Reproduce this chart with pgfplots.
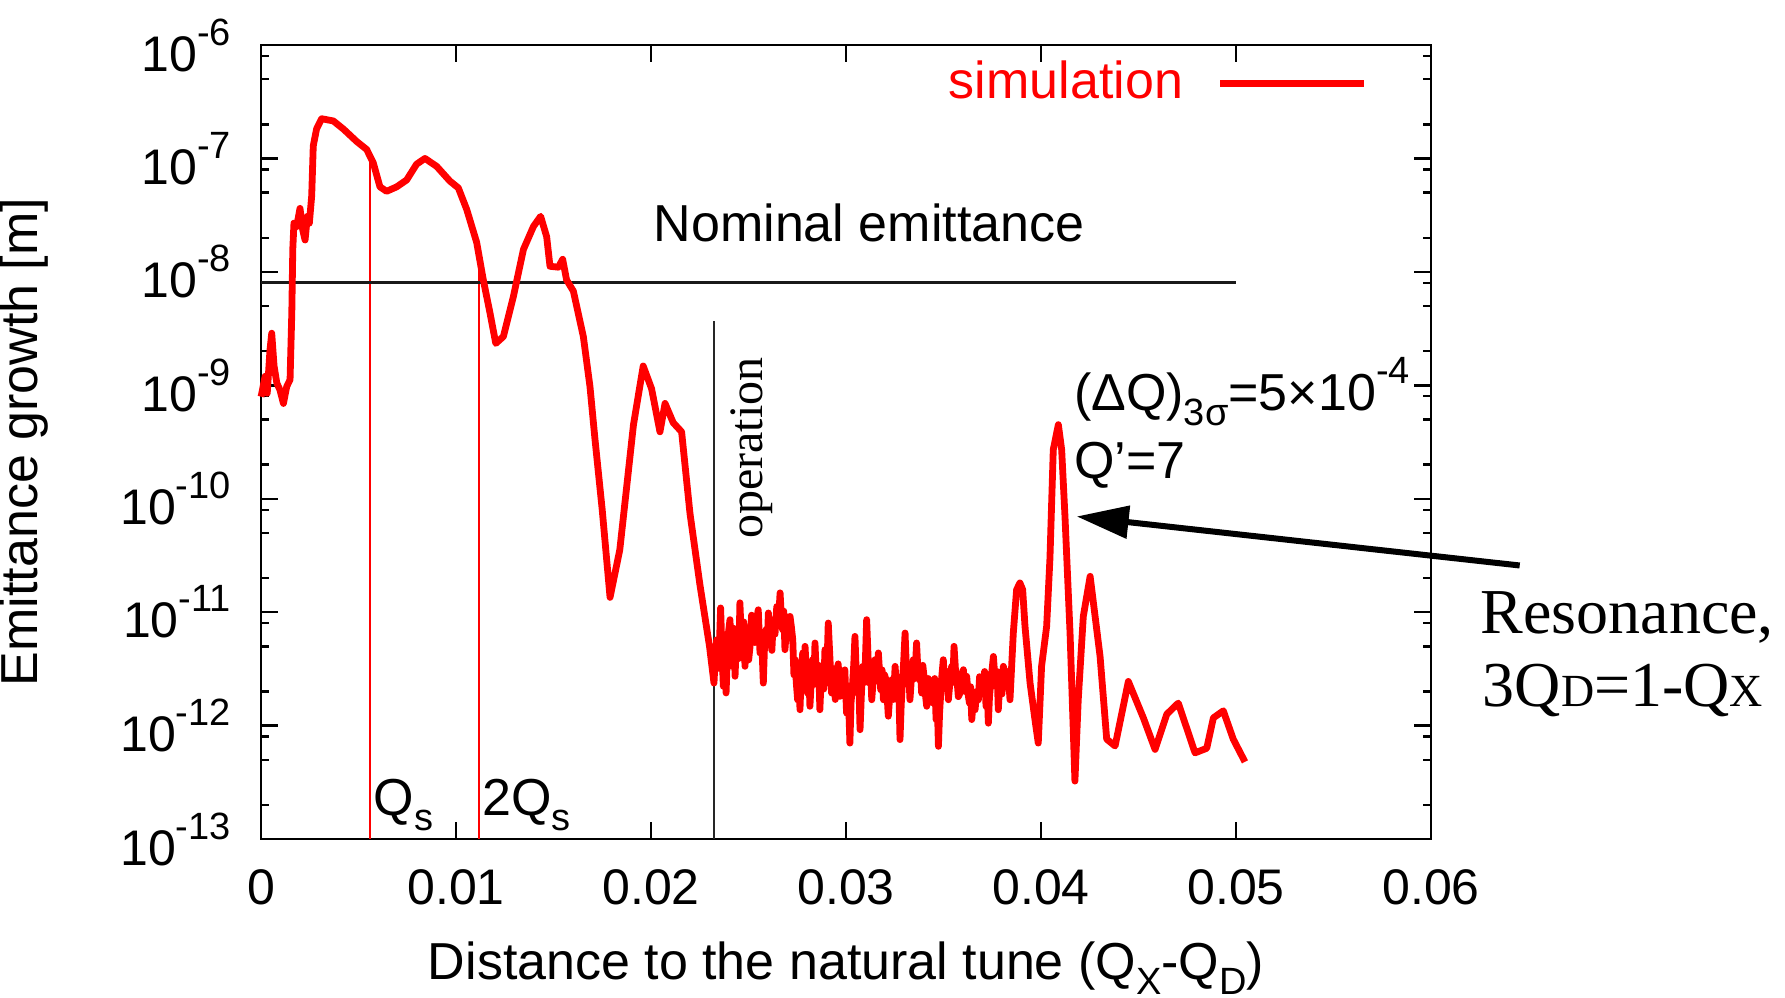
\documentclass[border=0pt]{standalone}
\usepackage{fontspec}
\setmainfont{Liberation Sans}
\newfontfamily\seriffont{Liberation Serif}
\usepackage{pgfplots}
\pgfplotsset{compat=1.18}
\usepackage{pgfplotstable}
\usetikzlibrary{arrows.meta}

\newcommand\fs{\fontsize{12.5}{15}\selectfont}
\newcommand\ft{\fontsize{13}{15}\selectfont}
\newcommand\sups[1]{\raisebox{0.52em}{\fontsize{9.5}{10}\selectfont #1}}
\newcommand\subs[1]{\raisebox{-0.28em}{\fontsize{9.5}{10}\selectfont #1}}

\pgfplotstableread{
x y
0.00000 7.94e-10
0.00003 8.32e-10
0.00021 1.20e-9
0.00032 8.51e-10
0.00046 2.04e-9
0.00055 2.88e-9
0.00067 1.48e-9
0.00081 1.05e-9
0.00097 9.12e-10
0.00115 6.92e-10
0.00132 9.77e-10
0.00149 1.12e-9
0.00158 4.37e-9
0.00163 1.58e-8
0.00169 2.69e-8
0.00183 2.51e-8
0.00200 3.63e-8
0.00214 2.34e-8
0.00226 1.91e-8
0.00238 3.09e-8
0.00248 2.69e-8
0.00260 4.68e-8
0.00268 1.29e-7
0.00285 1.82e-7
0.00311 2.24e-7
0.00371 2.14e-7
0.00422 1.82e-7
0.00491 1.41e-7
0.00542 1.20e-7
0.00576 9.12e-8
0.00610 5.62e-8
0.00644 5.13e-8
0.00696 5.62e-8
0.00747 6.46e-8
0.00798 8.91e-8
0.00841 1.00e-7
0.00901 8.51e-8
0.00969 6.31e-8
0.01012 5.50e-8
0.01055 3.55e-8
0.01106 1.82e-8
0.01140 8.51e-9
0.01174 4.37e-9
0.01204 2.34e-9
0.01243 2.69e-9
0.01294 6.03e-9
0.01346 1.58e-8
0.01397 2.51e-8
0.01434 3.09e-8
0.01465 2.04e-8
0.01482 1.12e-8
0.01525 1.10e-8
0.01547 1.29e-8
0.01567 8.51e-9
0.01602 6.76e-9
0.01653 2.69e-9
0.01687 9.77e-10
0.01713 3.31e-10
0.01750 7.94e-11
0.01790 1.35e-11
0.01840 3.55e-11
0.01910 4.47e-10
0.01960 1.48e-9
0.02003 9.33e-10
0.02046 3.89e-10
0.02072 6.92e-10
0.02114 4.68e-10
0.02157 3.89e-10
0.02200 7.41e-11
0.02251 1.74e-11
0.02300 5.01e-12
0.02323 2.37e-12
0.02330 4.10e-12
0.02337 5.71e-12
0.02347 3.20e-12
0.02357 1.09e-11
0.02364 4.50e-12
0.02371 2.22e-12
0.02378 5.20e-12
0.02385 1.94e-12
0.02395 6.10e-12
0.02405 8.59e-12
0.02412 4.00e-12
0.02419 3.33e-12
0.02425 7.20e-12
0.02431 2.72e-12
0.02437 5.00e-12
0.02443 7.01e-12
0.02450 3.90e-12
0.02456 1.21e-11
0.02463 6.00e-12
0.02470 4.37e-12
0.02476 8.20e-12
0.02482 3.33e-12
0.02488 5.50e-12
0.02494 6.55e-12
0.02501 3.80e-12
0.02508 5.00e-12
0.02516 9.40e-12
0.02525 8.02e-12
0.02533 5.40e-12
0.02542 8.59e-12
0.02550 1.05e-11
0.02559 4.37e-12
0.02567 6.20e-12
0.02576 2.37e-12
0.02583 5.60e-12
0.02590 7.01e-12
0.02596 5.10e-12
0.02602 9.84e-12
0.02608 7.30e-12
0.02614 6.12e-12
0.02620 4.60e-12
0.02627 8.59e-12
0.02636 6.40e-12
0.02645 1.12e-11
0.02653 8.00e-12
0.02662 1.48e-11
0.02668 9.50e-12
0.02675 7.01e-12
0.02681 1.02e-11
0.02687 4.67e-12
0.02693 6.50e-12
0.02699 8.59e-12
0.02706 5.90e-12
0.02713 9.18e-12
0.02720 7.40e-12
0.02727 5.71e-12
0.02733 2.80e-12
0.02739 3.81e-12
0.02745 2.40e-12
0.02752 1.69e-12
0.02758 3.10e-12
0.02764 1.38e-12
0.02771 3.00e-12
0.02778 4.37e-12
0.02784 2.60e-12
0.02790 5.00e-12
0.02796 3.20e-12
0.02802 1.94e-12
0.02808 3.60e-12
0.02815 1.48e-12
0.02822 2.50e-12
0.02829 3.81e-12
0.02835 2.30e-12
0.02841 5.35e-12
0.02847 3.00e-12
0.02853 2.37e-12
0.02860 3.40e-12
0.02866 1.38e-12
0.02873 2.70e-12
0.02880 3.33e-12
0.02886 2.10e-12
0.02892 4.67e-12
0.02900 2.37e-12
0.02909 8.02e-12
0.02918 3.81e-12
0.02926 1.94e-12
0.02932 3.20e-12
0.02938 2.72e-12
0.02945 1.70e-12
0.02952 2.54e-12
0.02960 3.50e-12
0.02969 1.81e-12
0.02977 2.90e-12
0.02986 2.37e-12
0.02994 3.10e-12
0.03003 1.29e-12
0.03011 2.20e-12
0.03020 7.01e-13
0.03026 1.60e-12
0.03033 2.22e-12
0.03040 3.50e-12
0.03046 6.12e-12
0.03052 3.10e-12
0.03058 1.94e-12
0.03065 2.80e-12
0.03072 9.20e-13
0.03079 1.90e-12
0.03086 3.33e-12
0.03096 2.40e-12
0.03106 8.59e-12
0.03113 4.10e-12
0.03120 2.37e-12
0.03126 3.40e-12
0.03132 1.69e-12
0.03140 2.60e-12
0.03149 3.81e-12
0.03157 2.50e-12
0.03166 4.37e-12
0.03172 3.00e-12
0.03178 2.07e-12
0.03185 3.10e-12
0.03192 1.69e-12
0.03198 2.80e-12
0.03205 2.54e-12
0.03211 1.80e-12
0.03217 1.21e-12
0.03226 2.00e-12
0.03235 2.54e-12
0.03243 1.70e-12
0.03252 3.33e-12
0.03258 2.30e-12
0.03264 1.69e-12
0.03270 2.50e-12
0.03277 7.52e-13
0.03283 1.50e-12
0.03289 2.37e-12
0.03296 3.70e-12
0.03303 6.55e-12
0.03309 3.40e-12
0.03315 2.54e-12
0.03321 3.20e-12
0.03328 1.69e-12
0.03336 2.70e-12
0.03345 3.81e-12
0.03353 2.60e-12
0.03362 5.35e-12
0.03369 3.00e-12
0.03376 2.54e-12
0.03382 3.10e-12
0.03388 1.94e-12
0.03394 3.40e-12
0.03400 2.72e-12
0.03407 1.90e-12
0.03414 1.48e-12
0.03422 2.60e-12
0.03431 2.22e-12
0.03439 1.60e-12
0.03448 1.94e-12
0.03455 2.60e-12
0.03462 1.13e-12
0.03468 1.60e-12
0.03474 6.56e-13
0.03480 1.30e-12
0.03486 1.94e-12
0.03492 2.80e-12
0.03499 3.81e-12
0.03506 2.30e-12
0.03513 2.37e-12
0.03519 3.00e-12
0.03525 1.69e-12
0.03533 2.40e-12
0.03542 3.33e-12
0.03548 2.40e-12
0.03554 5.00e-12
0.03561 3.20e-12
0.03568 2.72e-12
0.03576 1.80e-12
0.03585 1.94e-12
0.03593 2.60e-12
0.03602 3.11e-12
0.03610 2.00e-12
0.03619 2.72e-12
0.03626 1.90e-12
0.03633 1.58e-12
0.03639 2.20e-12
0.03645 1.13e-12
0.03653 1.70e-12
0.03662 1.38e-12
0.03670 2.00e-12
0.03679 1.69e-12
0.03685 2.70e-12
0.03691 2.37e-12
0.03697 1.90e-12
0.03704 2.22e-12
0.03711 3.00e-12
0.03718 1.48e-12
0.03724 2.10e-12
0.03730 1.05e-12
0.03736 1.80e-12
0.03742 2.37e-12
0.03749 3.10e-12
0.03756 4.07e-12
0.03762 2.90e-12
0.03769 2.22e-12
0.03775 3.00e-12
0.03781 1.38e-12
0.03787 2.10e-12
0.03793 2.54e-12
0.03800 1.90e-12
0.03807 3.33e-12
0.03815 2.90e-12
0.03824 2.37e-12
0.03832 3.00e-12
0.03841 1.69e-12
0.03858 6.55e-12
0.03875 1.58e-11
0.03892 1.81e-11
0.03906 1.58e-11
0.03918 7.50e-12
0.03944 2.37e-12
0.03969 1.13e-12
0.03986 7.01e-13
0.04003 3.33e-12
0.04029 7.50e-12
0.04046 3.00e-11
0.04063 2.71e-10
0.04089 4.50e-10
0.04106 2.71e-10
0.04123 7.00e-11
0.04149 6.55e-12
0.04166 8.59e-13
0.04174 3.24e-13
0.04191 1.69e-12
0.04217 9.18e-12
0.04252 2.07e-11
0.04303 4.07e-12
0.04337 7.59e-13
0.04380 6.61e-13
0.04448 2.45e-12
0.04525 1.17e-12
0.04585 6.17e-13
0.04645 1.26e-12
0.04704 1.58e-12
0.04790 5.75e-13
0.04850 6.31e-13
0.04884 1.17e-12
0.04935 1.35e-12
0.04986 7.59e-13
0.05046 4.79e-13
}\simdata

\begin{document}
\begin{tikzpicture}
\begin{axis}[
  name=ax, at={(0,0)}, anchor=south west,
  scale only axis, width=292.5pt, height=198.5pt,
  xmin=0, xmax=0.06, ymin=1e-13, ymax=1e-6, ymode=log,
  scaled x ticks=false,
  xtick={0,0.01,0.02,0.03,0.04,0.05,0.06},
  xticklabels={0,0.01,0.02,0.03,0.04,0.05,0.06},
  ytick={1e-13,1e-12,1e-11,1e-10,1e-9,1e-8,1e-7,1e-6},
  yticklabels={10\sups{-13},10\sups{-12},10\sups{-11},10\sups{-10},10\sups{-9},10\sups{-8},10\sups{-7},10\sups{-6}},
  minor ytick={2e-13,5e-13,8e-13,2e-12,5e-12,8e-12,2e-11,5e-11,8e-11,2e-10,5e-10,8e-10,2e-9,5e-9,8e-9,2e-8,5e-8,8e-8,2e-7,5e-7,8e-7},
  tick align=inside, tick pos=both,
  major tick length=4.2pt, minor tick length=2.1pt,
  tick style={black, line width=0.6pt},
  axis line style={line width=0.7pt},
  tick label style={font=\fs},
  xticklabel style={yshift=-4pt},
  yticklabel style={xshift=-4pt},
  xlabel={Distance to the natural tune (Q\subs{X}-Q\subs{D})},
  ylabel={Emittance growth [m]},
  every axis x label/.style={at={(axis description cs:0.5,-0.1770)}, anchor=base, font=\ft},
  every axis y label/.style={at={(axis description cs:-0.2021,0.5)}, rotate=90, anchor=center, font=\ft},
  clip=false,
  legend plot pos=right,
  legend image code/.code={\draw[#1] (0pt,0pt) -- (36pt,0pt);},
  legend style={draw=none, fill=none, inner sep=0pt, outer sep=0pt,
    at={(axis description cs:0.946,0.952)}, anchor=east,
    font=\color{red}\ft, column sep=8.5pt, nodes={inner sep=0pt}},
]
\addplot[red, line width=0.5pt, forget plot] coordinates {(0.00559,1e-13) (0.00559,9.5e-8)};
\addplot[red, line width=0.5pt, forget plot] coordinates {(0.01118,1e-13) (0.01118,1.29e-8)};
\addplot[black!85, line width=0.4pt, forget plot] coordinates {(0.02323,1e-13) (0.02323,3.66e-9)};
\addplot[black!90, line width=0.7pt, forget plot] coordinates {(0,8e-9) (0.05,8e-9)};
\addplot[red, line width=1.7pt, line join=round] table[x=x,y=y] {\simdata};
\addlegendentry{simulation}

\node[anchor=base west, inner sep=0pt, font=\ft] at (axis cs:0.0201,1.86e-8) {Nominal emittance};
\node[anchor=base west, inner sep=0pt, font=\ft, xshift=0.7pt] at (axis cs:0.00559,1.6e-13) {Q\subs{s}};
\node[anchor=base west, inner sep=0pt, font=\ft, xshift=0.7pt] at (axis cs:0.01118,1.6e-13) {2Q\subs{s}};
\node[rotate=90, inner sep=0pt, font=\seriffont\fontsize{12}{14}\selectfont] at (axis cs:0.02518,2.8e-10) {operation};
\node[anchor=base west, inner sep=0pt, font=\ft] at (axis cs:0.04166,6.0e-10) {(ΔQ)\subs{3σ}=5×10\sups{-4}};
\node[anchor=base west, inner sep=0pt, font=\ft] at (axis cs:0.04166,1.51e-10) {Q’=7};
\draw[-{Triangle[length=13pt,width=8pt]}, line width=1.5pt] (axis cs:0.06455,2.58e-11) -- (axis cs:0.04183,6.98e-11);
\node[anchor=base west, inner sep=0pt, font=\seriffont\fontsize{16}{18}\selectfont] at (axis cs:0.06251,6.45e-12) {Resonance,};
\node[anchor=base west, inner sep=0pt, font=\seriffont\fontsize{16}{18}\selectfont] at (axis cs:0.06262,1.47e-12) {3Q{\fontsize{11.5}{12}\selectfont D}=1-Q{\fontsize{11.5}{12}\selectfont X}};
\end{axis}
\pgfresetboundingbox
\path[use as bounding box] (-65.25pt,-39.5pt) rectangle (381pt,209.75pt);
\end{tikzpicture}
\end{document}
